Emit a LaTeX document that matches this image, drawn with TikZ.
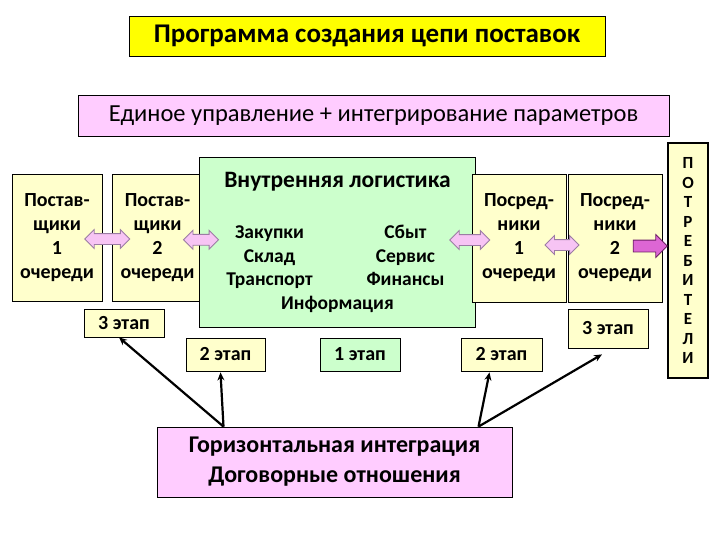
\documentclass[tikz,border=0pt]{standalone}
\usepackage{fontspec}
\setmainfont{Carlito}
\usetikzlibrary{shapes.arrows,arrows.meta,calc}
\definecolor{titleyellow}{HTML}{FFFF00}
\definecolor{lightpink}{HTML}{FFCCFF}
\definecolor{paleyellow}{HTML}{FFFFCC}
\definecolor{palegreen}{HTML}{CCFFCC}
\definecolor{arrpink}{HTML}{F7C4F4}
\definecolor{arrline}{HTML}{9C7CA4}
\definecolor{magentaarr}{HTML}{DD66D4}
\definecolor{magentaline}{HTML}{6E1E66}
\tikzset{
  box/.style={rectangle, draw, line width=0.8pt, align=center, inner sep=2pt, font=\fontsize{20}{24}\selectfont\bfseries},
  supbox/.style={box, fill=paleyellow, minimum width=90pt, minimum height=127pt},
  stage/.style={box, fill=paleyellow, font=\fontsize{20}{24}\selectfont\bfseries},
  dblarr/.style={double arrow, draw=arrline, fill=arrpink, line width=0.8pt, inner sep=5pt, minimum width=18pt, double arrow head extend=4pt},
  onearr/.style={single arrow, draw=magentaline, fill=magentaarr, line width=0.8pt, inner sep=5.5pt, minimum width=22pt, single arrow head extend=5.5pt},
  arr/.style={-{Stealth[length=8pt,width=7pt]}, line width=2.2pt}
}
\begin{document}
\begin{tikzpicture}[x=1pt,y=-1pt]
\useasboundingbox (0,0) rectangle (720,540);
\node[box, fill=titleyellow, minimum width=476pt, minimum height=40pt, font=\fontsize{27}{30}\selectfont\bfseries] (title) at (367,36) {Программа создания цепи поставок};
\node[box, fill=lightpink, font=\fontsize{24.5}{28}\selectfont, minimum width=591pt, minimum height=41pt] (unify) at (373.5,115.5) {Единое управление + интегрирование параметров};

\node[supbox] (sup1) at (57,237.5) {Постав-\\щики\\1\\очереди};
\node[supbox] (sup2) at (157.5,237.5) {Постав-\\щики\\2\\очереди};
\node[box, fill=palegreen, minimum width=249pt, minimum height=170pt, font=\fontsize{19.5}{23.5}\selectfont\bfseries] (logist) at (337.5,242) {{\fontsize{23.5}{26}\selectfont Внутренняя логистика}\\[28pt]
  \makebox[136pt]{Закупки}\makebox[136pt]{Сбыт}\\
  \makebox[136pt]{Склад}\makebox[136pt]{Сервис}\\
  \makebox[136pt]{Транспорт}\makebox[136pt]{Финансы}\\
  Информация};
\node[supbox, minimum width=94pt, minimum height=128pt] (pos1) at (519,238) {Посред-\\ники\\1\\очереди};
\node[supbox, minimum width=94pt, minimum height=128pt] (pos2) at (615,238) {Посред-\\ники\\2\\очереди};
\node[box, fill=paleyellow, line width=2.4pt, minimum width=40pt, minimum height=235pt, font=\fontsize{17}{19.5}\selectfont\bfseries] (consum) at (688,260.5) {П\\О\\Т\\Р\\Е\\Б\\И\\Т\\Е\\Л\\И};

\node[dblarr, minimum height=45pt] (asup) at ($(sup1.east)!0.5!(sup2.west)+(0,1.5)$) {};
\node[dblarr, minimum height=35pt] (ain) at ($(sup2.east)!0.5!(logist.west)$) {};
\node[dblarr, minimum height=40pt] (aout) at ($(logist.east)!0.5!(pos1.west)+(-4,0)$) {};
\node[dblarr, minimum height=34pt] (apos) at ($(pos1.east)!0.5!(pos2.west)+(-5,7)$) {};
\node[onearr, minimum height=34pt, anchor=tip] (acons) at ($(consum.west)+(1,-14.5)$) {};

\node[stage, minimum width=80pt, minimum height=28pt] (st3l) at (124,323) {3 этап};
\node[stage, minimum width=79pt, minimum height=33pt] (st2l) at (225.5,354.5) {2 этап};
\node[stage, fill=palegreen, minimum width=80pt, minimum height=33pt] (st1) at (360,354.5) {1 этап};
\node[stage, minimum width=81pt, minimum height=33pt] (st2r) at (501.5,354.5) {2 этап};
\node[stage, minimum width=80pt, minimum height=39pt] (st3r) at (608,328.5) {3 этап};

\node[box, fill=lightpink, minimum width=355pt, minimum height=70pt, font=\fontsize{24}{30}\selectfont\bfseries] (horiz) at (334.5,462) {Горизонтальная интеграция\\Договорные отношения};

\draw[arr] ([xshift=-111pt]horiz.north) -- ([xshift=-5pt]st3l.south);
\draw[arr] ([xshift=-111pt]horiz.north) -- ([xshift=-5pt,yshift=-1pt]st2l.south);
\draw[arr] ([xshift=144pt]horiz.north) -- ([xshift=-12pt,yshift=-1pt]st2r.south);
\draw[arr] ([xshift=144pt]horiz.north) -- ([xshift=-6pt,yshift=-6pt]st3r.south);
\end{tikzpicture}
\end{document}
